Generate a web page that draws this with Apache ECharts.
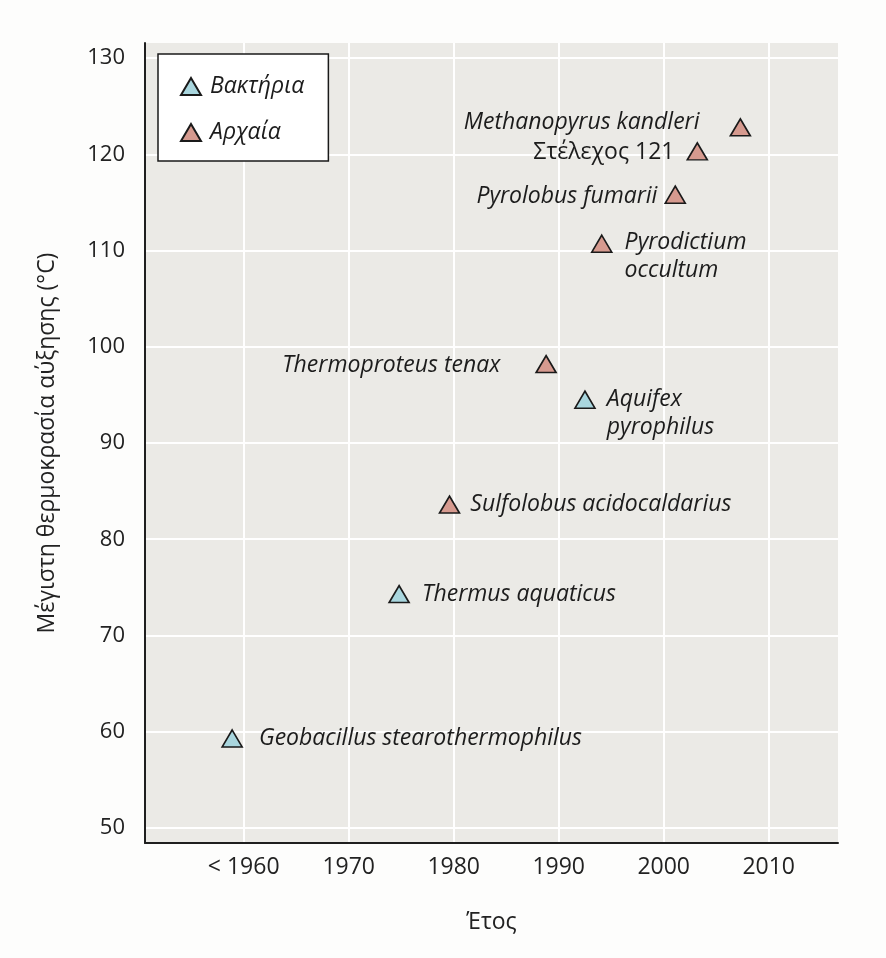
<!DOCTYPE html>
<html>
<head>
<meta charset="utf-8">
<script src="https://cdn.jsdelivr.net/npm/echarts@6/dist/echarts.min.js"></script>
<style>html,body{margin:0;padding:0;background:#fdfdfc;}#c{width:886px;height:958px;}</style>
</head>
<body>
<div id="c"></div>
<script>
// ---- data ----
const xTicks = [1960, 1970, 1980, 1990, 2000, 2010];
const xTickLabels = ['< 1960', '1970', '1980', '1990', '2000', '2010'];
const yTicks = [50, 60, 70, 80, 90, 100, 110, 120, 130];
const groups = ['Βακτήρια', 'Αρχαία'];
const organisms = ['Geobacillus stearothermophilus', 'Thermus aquaticus', 'Sulfolobus acidocaldarius',
  'Thermoproteus tenax', 'Aquifex\npyrophilus', 'Pyrodictium\noccultum', 'Pyrolobus fumarii',
  'Στέλεχος 121', 'Methanopyrus kandleri'];
const years = [1958.9, 1974.8, 1979.6, 1988.8, 1992.5, 1994.1, 2001.1, 2003.2, 2007.3];
const maxTemps = [59.3, 74.3, 83.6, 98.2, 94.5, 110.7, 115.8, 120.3, 122.8];
const groupOf = [0, 0, 1, 1, 0, 1, 1, 1, 1];

// ---- label layout (style only) ----
const labelLayout = {
  'Geobacillus stearothermophilus': {position: 'right', distance: 16, offset: [0, 0]},
  'Thermus aquaticus': {position: 'right', distance: 12, offset: [0, 0]},
  'Sulfolobus acidocaldarius': {position: 'right', distance: 10, offset: [0, 0]},
  'Thermoproteus tenax': {position: 'left', distance: 35, offset: [0, 1]},
  'Aquifex\npyrophilus': {position: 'right', distance: 11, offset: [0, 14]},
  'Pyrodictium\noccultum': {position: 'right', distance: 12, offset: [0, 13]},
  'Pyrolobus fumarii': {position: 'left', distance: 7, offset: [0, 2]},
  'Στέλεχος 121': {position: 'left', distance: 12, offset: [0, 1], fontStyle: 'normal'},
  'Methanopyrus kandleri': {position: 'left', distance: 30, offset: [0, -5]}
};

const fills = ['#a9d6de', '#d69a8f'];
const FONT = '"Open Sans", "Noto Sans", sans-serif';

function buildSeries(g) {
  const data = [];
  organisms.forEach((name, i) => {
    if (groupOf[i] !== g) return;
    const L = labelLayout[name];
    data.push({
      name: name,
      value: [years[i], maxTemps[i]],
      label: {
        show: true,
        position: L.position,
        distance: L.distance,
        offset: L.offset,
        formatter: name,
        fontStyle: L.fontStyle || 'italic',
        fontFamily: FONT,
        fontSize: 23,
        lineHeight: 28,
        color: '#1c1c1c'
      }
    });
  });
  return {
    name: groups[g],
    type: 'scatter',
    symbol: 'triangle',
    symbolSize: [20, 17],
    itemStyle: {color: fills[g], borderColor: '#1a1a1a', borderWidth: 1.6, opacity: 1},
    data: data,
    z: 5
  };
}

const chart = echarts.init(document.getElementById('c'), null, {renderer: 'canvas'});
chart.setOption({
  backgroundColor: '#fdfdfc',
  animation: false,
  grid: {left: 145, top: 43, right: 48, bottom: 115, show: true, backgroundColor: '#ebeae6', borderWidth: 0},
  legend: {
    left: 158, top: 54, orient: 'vertical',
    backgroundColor: '#ffffff', borderColor: '#1a1a1a', borderWidth: 1.5, borderRadius: 0,
    padding: [21, 24, 17, 22],
    itemWidth: 20, itemHeight: 17, itemGap: 23,
    icon: 'triangle',
    textStyle: {fontFamily: FONT, fontSize: 23, fontStyle: 'italic', color: '#1c1c1c', lineHeight: 23, padding: [0, 0, 0, 4]},
    data: groups
  },
  xAxis: {
    type: 'value', min: 1950.6, max: 2016.6,
    name: 'Έτος', nameLocation: 'middle', nameGap: 68,
    nameTextStyle: {fontFamily: FONT, fontSize: 23, color: '#222'},
    axisLine: {show: true, lineStyle: {color: '#1f1f1f', width: 2}},
    axisTick: {show: false, customValues: xTicks},
    axisLabel: {customValues: xTicks, fontFamily: FONT, fontSize: 23, color: '#222', margin: 13,
      formatter: v => xTickLabels[xTicks.indexOf(v)]},
    splitLine: {show: true, lineStyle: {color: '#ffffff', width: 2}}
  },
  yAxis: {
    type: 'value', min: 48.44, max: 131.56,
    name: 'Μέγιστη θερμοκρασία αύξησης (°C)', nameLocation: 'middle', nameGap: 86,
    nameTextStyle: {fontFamily: FONT, fontSize: 23, color: '#222'},
    axisLine: {show: true, lineStyle: {color: '#1f1f1f', width: 2}},
    axisTick: {show: false, customValues: yTicks},
    axisLabel: {customValues: yTicks, fontFamily: FONT, fontSize: 22, color: '#222', margin: 20},
    splitLine: {show: true, lineStyle: {color: '#ffffff', width: 2}}
  },
  series: [buildSeries(0), buildSeries(1)]
});
</script>
</body>
</html>
